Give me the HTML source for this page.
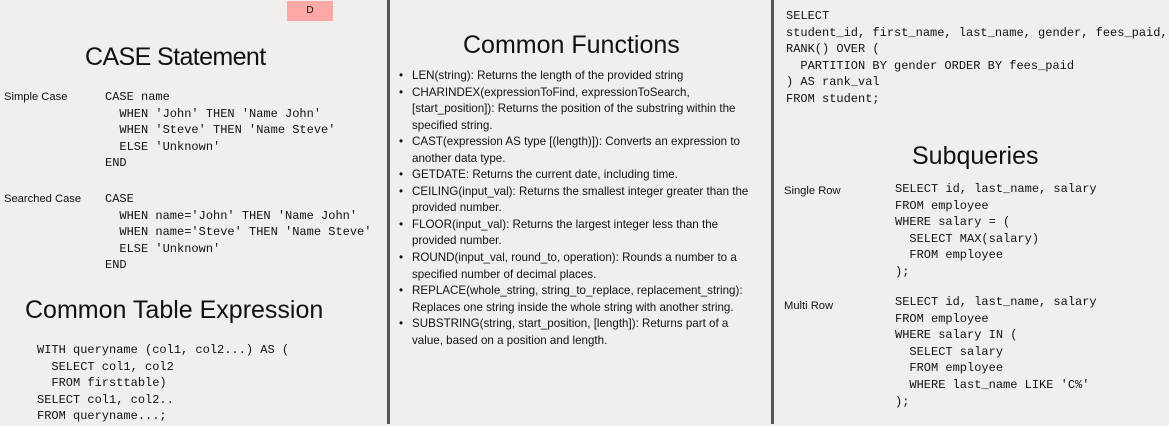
<!DOCTYPE html>
<html><head><meta charset="utf-8"><style>
body{margin:0;width:1169px;height:426px;background:#f0efee;position:relative;overflow:hidden;font-family:"Liberation Sans",sans-serif;color:#111}
.a{position:absolute;white-space:pre}
.m{font-family:"Liberation Mono",monospace;font-size:12px;line-height:16.6px}
.h{font-size:25px;line-height:30px}
.s{font-size:11.2px}
.b{font-size:11.6px;line-height:16.55px}
.vl{position:absolute;top:0;width:3px;height:424px;background:#555}
</style></head><body>
<div class="vl" style="left:387px"></div>
<div class="vl" style="left:771px"></div>
<div class="a" style="left:287px;top:1px;width:46px;height:20px;background:#ffa8a8;font-size:10px;line-height:20px;text-align:center">D</div>

<div class="a h" style="left:85px;top:42px;letter-spacing:-0.6px">CASE Statement</div>
<div class="a s" style="left:4px;top:91px">Simple Case</div>
<div class="a m" style="left:105px;top:89px">CASE name
  WHEN 'John' THEN 'Name John'
  WHEN 'Steve' THEN 'Name Steve'
  ELSE 'Unknown'
END</div>
<div class="a s" style="left:4px;top:193px">Searched Case</div>
<div class="a m" style="left:105px;top:191px">CASE
  WHEN name='John' THEN 'Name John'
  WHEN name='Steve' THEN 'Name Steve'
  ELSE 'Unknown'
END</div>
<div class="a h" style="left:25px;top:295px">Common Table Expression</div>
<div class="a m" style="left:37px;top:342px">WITH queryname (col1, col2...) AS (
  SELECT col1, col2
  FROM firsttable)
SELECT col1, col2..
FROM queryname...;</div>

<div class="a h" style="left:463px;top:30px">Common Functions</div>
<div class="a b" style="left:399px;top:68px">•
•


•

•
•

•

•

•

•</div>
<div class="a b" style="left:412px;top:68px">LEN(string): Returns the length of the provided string
CHARINDEX(expressionToFind, expressionToSearch,
[start_position]): Returns the position of the substring within the
specified string.
CAST(expression AS type [(length)]): Converts an expression to
another data type.
GETDATE: Returns the current date, including time.
CEILING(input_val): Returns the smallest integer greater than the
provided number.
FLOOR(input_val): Returns the largest integer less than the
provided number.
ROUND(input_val, round_to, operation): Rounds a number to a
specified number of decimal places.
REPLACE(whole_string, string_to_replace, replacement_string):
Replaces one string inside the whole string with another string.
SUBSTRING(string, start_position, [length]): Returns part of a
value, based on a position and length.</div>

<div class="a m" style="left:786px;top:8px">SELECT
student_id, first_name, last_name, gender, fees_paid,
RANK() OVER (
  PARTITION BY gender ORDER BY fees_paid
) AS rank_val
FROM student;</div>
<div class="a h" style="left:912px;top:141px">Subqueries</div>
<div class="a s" style="left:784px;top:185px">Single Row</div>
<div class="a m" style="left:895px;top:181px">SELECT id, last_name, salary
FROM employee
WHERE salary = (
  SELECT MAX(salary)
  FROM employee
);</div>
<div class="a s" style="left:784px;top:300px">Multi Row</div>
<div class="a m" style="left:895px;top:294px">SELECT id, last_name, salary
FROM employee
WHERE salary IN (
  SELECT salary
  FROM employee
  WHERE last_name LIKE 'C%'
);</div>
</body></html>
